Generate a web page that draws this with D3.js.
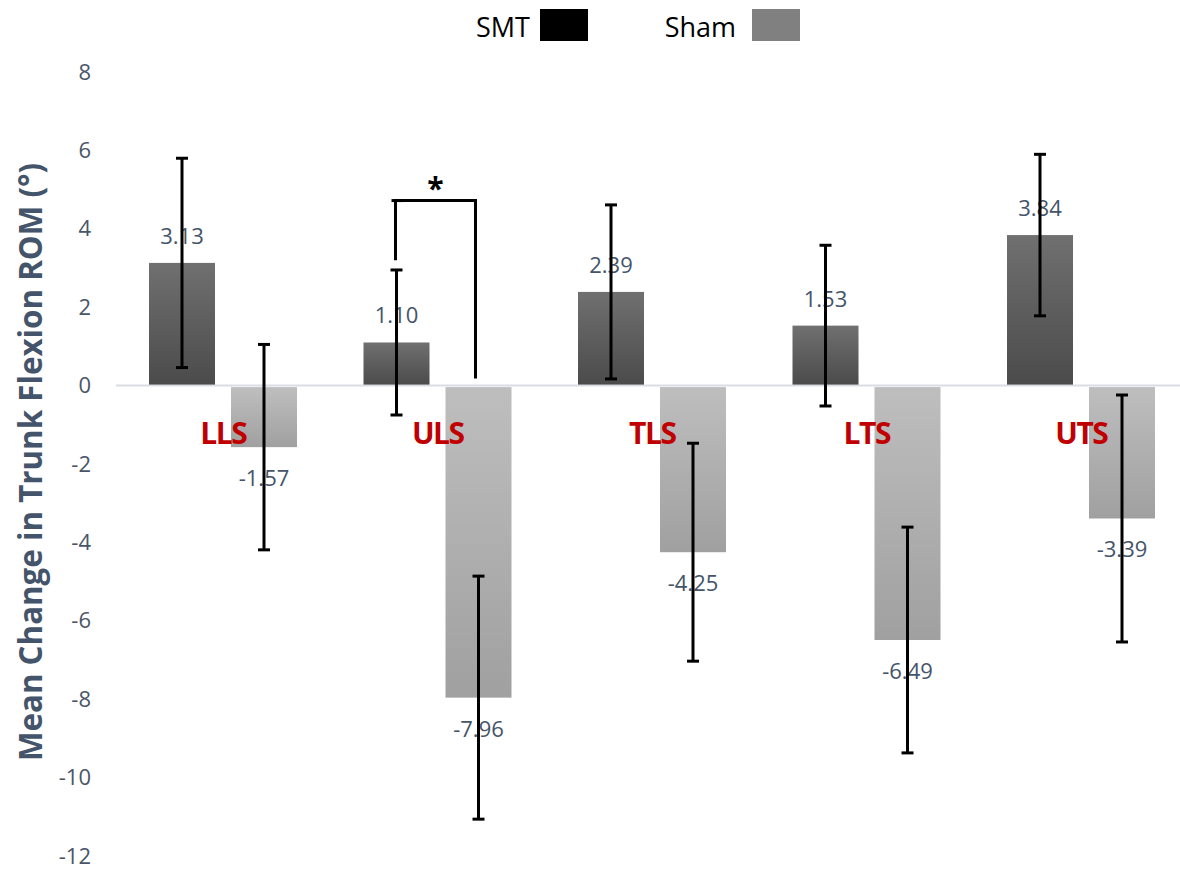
<!DOCTYPE html>
<html>
<head>
<meta charset="utf-8">
<script src="https://cdn.jsdelivr.net/npm/d3@7"></script>
<style>
  html, body { margin: 0; padding: 0; background: #fff; }
  svg { display: block; }
</style>
</head>
<body>
<svg id="chart" width="1180" height="871"></svg>
<script>
// Regions of the spine and the two treatment groups
const categories = ["LLS", "ULS", "TLS", "LTS", "UTS"];
const groups = ["SMT", "Sham"];

// Mean change in trunk flexion ROM (degrees)
const smtMeans  = [3.13, 1.10, 2.39, 1.53, 3.84];
const shamMeans = [-1.57, -7.96, -4.25, -6.49, -3.39];

// Error bar half-lengths
const smtErrors  = [2.67, 1.85, 2.22, 2.05, 2.06];
const shamErrors = [2.62, 3.10, 2.78, 2.88, 3.15];

// Y axis ticks
const yTicks = [8, 6, 4, 2, 0, -2, -4, -6, -8, -10, -12];

// Significance bracket between SMT and Sham at ULS (values in degrees)
const sigCategory = "ULS";
const sigTop = 4.72;
const sigLeftEnd = 3.2;
const sigRightEnd = 0.18;
const sigMark = "*";

const svg = d3.select("#chart");

const x0 = d3.scaleBand().domain(categories).range([116, 1188.5]).padding(0);
const x1 = d3.scaleBand().domain(groups).range([33, 181]).paddingInner(0.195).paddingOuter(0);
const y = d3.scaleLinear().domain([-12, 8]).range([856, 72]);

// Plain hyphen for negatives
const fmtTick = d => String(d);
const fmtVal = d => d.toFixed(2);

const defs = svg.append("defs");
const gSmt = defs.append("linearGradient").attr("id", "gradSmt").attr("x1", 0).attr("y1", 0).attr("x2", 0).attr("y2", 1);
gSmt.append("stop").attr("offset", "0%").attr("stop-color", "#707070");
gSmt.append("stop").attr("offset", "100%").attr("stop-color", "#4b4b4b");
const gSham = defs.append("linearGradient").attr("id", "gradSham").attr("x1", 0).attr("y1", 0).attr("x2", 0).attr("y2", 1);
gSham.append("stop").attr("offset", "0%").attr("stop-color", "#bebebe");
gSham.append("stop").attr("offset", "100%").attr("stop-color", "#a0a0a0");

// Y tick labels
const yAxis = d3.axisLeft(y).tickValues(yTicks).tickSize(0).tickPadding(0).tickFormat(fmtTick);
const yg = svg.append("g").attr("transform", "translate(91,0)").call(yAxis);
yg.select(".domain").remove();
yg.selectAll("text")
  .attr("fill", "#4a5568")
  .style("font-family", "'Open Sans', sans-serif")
  .style("font-size", "22px");

// Axis title
svg.append("text")
  .attr("transform", "translate(42,462) rotate(-90)")
  .attr("text-anchor", "middle")
  .attr("fill", "#44546A")
  .style("font-family", "'Open Sans', sans-serif")
  .style("font-weight", "bold")
  .style("font-size", "33px")
  .attr("textLength", 598)
  .attr("lengthAdjust", "spacingAndGlyphs")
  .text("Mean Change in Trunk Flexion ROM (°)");

// Zero line
svg.append("line")
  .attr("x1", 116).attr("x2", 1180)
  .attr("y1", y(0)).attr("y2", y(0))
  .attr("stroke", "#d9dde3").attr("stroke-width", 2);

// Bar records
const rows = [];
categories.forEach((c, i) => {
  rows.push({ cat: c, group: "SMT", mean: smtMeans[i], err: smtErrors[i] });
  rows.push({ cat: c, group: "Sham", mean: shamMeans[i], err: shamErrors[i] });
});
const cx = d => x0(d.cat) + x1(d.group) + x1.bandwidth() / 2;

// Bars
svg.append("g").selectAll("rect")
  .data(rows)
  .join("rect")
  .attr("x", d => x0(d.cat) + x1(d.group))
  .attr("width", x1.bandwidth())
  .attr("y", d => d.mean >= 0 ? y(d.mean) : y(0) + 1.5)
  .attr("height", d => d.mean >= 0 ? y(0) - y(d.mean) - 1 : y(d.mean) - y(0) - 1.5)
  .attr("fill", d => d.group === "SMT" ? "url(#gradSmt)" : "url(#gradSham)");

// Category labels
svg.append("g").selectAll("text")
  .data(categories)
  .join("text")
  .attr("x", d => x0(d) + x0.bandwidth() / 2)
  .attr("y", 444)
  .attr("text-anchor", "middle")
  .attr("fill", "#C00000")
  .style("font-family", "'Open Sans', sans-serif")
  .style("font-weight", "bold")
  .style("font-size", "30px")
  .style("letter-spacing", "-1.5px")
  .text(d => d);

// Value labels
svg.append("g").selectAll("text")
  .data(rows)
  .join("text")
  .attr("x", d => cx(d))
  .attr("y", d => d.mean >= 0 ? y(d.mean) - 19 : y(d.mean) + 39)
  .attr("text-anchor", "middle")
  .attr("fill", "#44546A")
  .style("font-family", "'Open Sans', sans-serif")
  .style("font-size", "22px")
  .text(d => fmtVal(d.mean));

// Error bars
const eg = svg.append("g").attr("stroke", "#000").attr("stroke-width", 3);
rows.forEach(d => {
  const xc = cx(d);
  const top = y(d.mean + d.err), bot = y(d.mean - d.err);
  eg.append("line").attr("x1", xc).attr("x2", xc).attr("y1", top).attr("y2", bot);
  eg.append("line").attr("x1", xc - 6).attr("x2", xc + 6).attr("y1", top).attr("y2", top);
  eg.append("line").attr("x1", xc - 6).attr("x2", xc + 6).attr("y1", bot).attr("y2", bot);
});

// Significance bracket
const xl = x0(sigCategory) + x1("SMT") + x1.bandwidth() / 2 - 1;
const xr = x0(sigCategory) + x1("Sham") + x1.bandwidth() / 2 - 3;
svg.append("path")
  .attr("d", `M${xl},${y(sigLeftEnd)} V${y(sigTop)} H${xr} V${y(sigRightEnd)}`)
  .attr("fill", "none").attr("stroke", "#000").attr("stroke-width", 3);
svg.append("line")
  .attr("x1", xl - 4).attr("x2", xl + 8).attr("y1", y(sigTop)).attr("y2", y(sigTop))
  .attr("stroke", "#000").attr("stroke-width", 3);
svg.append("text")
  .attr("x", (xl + xr) / 2)
  .attr("y", y(sigTop) - 2)
  .attr("text-anchor", "middle")
  .attr("fill", "#000")
  .style("font-family", "'Open Sans', sans-serif")
  .style("font-weight", "bold")
  .style("font-size", "30px")
  .text(sigMark);

// Legend
const legend = svg.append("g");
const legendItems = [
  { name: "SMT", color: "#000000", tx: 530, rx: 540 },
  { name: "Sham", color: "#808080", tx: 736, rx: 752 }
];
legendItems.forEach(it => {
  legend.append("text")
    .attr("x", it.tx).attr("y", 37)
    .attr("text-anchor", "end")
    .attr("fill", "#000")
    .style("font-family", "'Open Sans', sans-serif")
    .style("font-size", "27px")
    .text(it.name);
  legend.append("rect")
    .attr("x", it.rx).attr("y", 9)
    .attr("width", 48).attr("height", 32)
    .attr("fill", it.color);
});
</script>
</body>
</html>
